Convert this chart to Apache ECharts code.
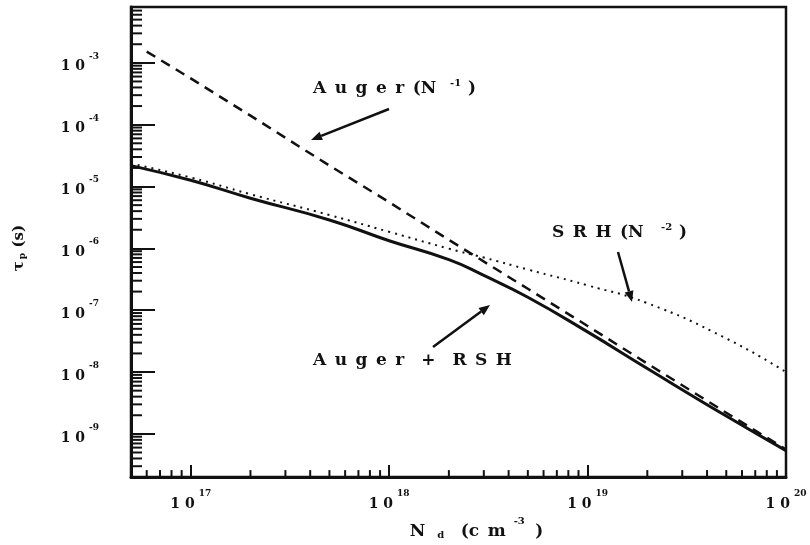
<!DOCTYPE html>
<html>
<head>
<meta charset="utf-8">
<script src="https://cdn.jsdelivr.net/npm/echarts@6/dist/echarts.min.js"></script>
<style>
  html, body { margin: 0; padding: 0; background: #fff; }
  #chart { width: 810px; height: 545px; }
</style>
</head>
<body>
<div id="chart"></div>
<script>
// Doping concentration N_d (cm^-3) sample points
const dopingN = [5e16, 1e17, 2e17, 5e17, 1e18, 2e18, 3e18, 5e18, 1e19, 2e19, 5e19, 1e20];
// Combined lifetime (solid)
const tauCombined = [2.18e-5, 1.26e-5, 6.47e-6, 2.88e-6, 1.33e-6, 6.58e-7, 3.65e-7, 1.62e-7, 4.46e-8, 1.14e-8, 1.94e-9, 5.35e-10];
// SRH-limited lifetime (dotted)
const tauSrh = [2.35e-5, 1.40e-5, 7.5e-6, 3.46e-6, 1.85e-6, 9.9e-7, 7.1e-7, 4.55e-7, 2.52e-7, 1.3e-7, 3.5e-8, 1.0e-8];
// Auger-limited lifetime (dashed)
const augerN = [6e16, 1e17, 2e17, 5e17, 1e18, 2e18, 5e18, 1e19, 2e19, 5e19, 1e20];
const tauAuger = [1.52e-3, 5.6e-4, 1.40e-4, 2.18e-5, 5.58e-6, 1.37e-6, 2.22e-7, 5.56e-8, 1.37e-8, 2.2e-9, 5.6e-10];

// Axis ranges
const X_MIN = 5e16, X_MAX = 1e20;
const Y_MIN = 2e-10, Y_MAX = 8e-3;

// Minor tick values (2..9 x 10^n) inside the axis ranges
function minorTicks(lo, hi) {
  const out = [];
  for (let e = Math.floor(Math.log10(lo)); e <= Math.ceil(Math.log10(hi)); e++) {
    for (let m = 2; m <= 9; m++) {
      const v = m * Math.pow(10, e);
      if (v > lo * 1.0001 && v < hi * 0.9999) out.push(v);
    }
  }
  return out;
}
const xMinor = minorTicks(X_MIN, X_MAX);
const yMinor = minorTicks(Y_MIN, Y_MAX);

const FONT = '"DejaVu Serif", "Liberation Serif", serif';
const SP = '\u2002';

function decadeLabel(v) {
  const lg = Math.log10(v);
  const e = Math.round(lg);
  if (Math.abs(lg - e) > 1e-6) return '';
  return '{b|1 0}{e|' + (e < 0 ? '-' + (-e) : e) + '}';
}

const labelRich = {
  b: { fontFamily: FONT, fontWeight: 'bold', fontSize: 14, color: '#111', lineHeight: 22, verticalAlign: 'bottom' },
  e: { fontFamily: FONT, fontWeight: 'bold', fontSize: 9, color: '#111', lineHeight: 22, verticalAlign: 'top', padding: [0, 0, 0, 4] }
};

function arrow(x1, y1, x2, y2) {
  const ang = Math.atan2(y2 - y1, x2 - x1);
  const L = 11, W = 4.5;
  const bx = x2 - L * Math.cos(ang), by = y2 - L * Math.sin(ang);
  const px = -Math.sin(ang) * W, py = Math.cos(ang) * W;
  return [
    { type: 'line', shape: { x1: x1, y1: y1, x2: bx, y2: by }, style: { stroke: '#111', lineWidth: 2.5 } },
    { type: 'polygon', shape: { points: [[x2, y2], [bx + px, by + py], [bx - px, by - py]] }, style: { fill: '#111' } }
  ];
}

const annoText = { fontFamily: FONT, fontWeight: 'bold', fontSize: 17, fill: '#111' };
const supText = { fontFamily: FONT, fontWeight: 'bold', fontSize: 10, fill: '#111' };

function spaced(s) { return s.split('').join(SP); }

const chart = echarts.init(document.getElementById('chart'), null, { renderer: 'canvas' });

chart.setOption({
  backgroundColor: '#fff',
  animation: false,
  grid: {
    left: 131, right: 24, top: 7, bottom: 63,
    show: true, borderColor: '#111', borderWidth: 2.5, backgroundColor: 'transparent'
  },
  xAxis: {
    type: 'log', logBase: 10, min: X_MIN, max: X_MAX,
    axisLine: { show: true, lineStyle: { color: '#111', width: 3 } },
    axisTick: { show: true, inside: true, length: 12, lineStyle: { color: '#111', width: 2 } },
    splitLine: { show: false },
    axisLabel: { margin: 12, formatter: decadeLabel, rich: labelRich, showMinLabel: true, showMaxLabel: true },
    name: '{n|N}{s|d}{n|' + SP + '(c' + SP + 'm}{e|-3}{n|' + SP + ')}',
    nameLocation: 'middle', nameGap: 32,
    nameTextStyle: {
      padding: [0, 0, 0, 36],
      rich: {
        n: { fontFamily: FONT, fontWeight: 'bold', fontSize: 17, color: '#111', lineHeight: 24, verticalAlign: 'bottom' },
        s: { fontFamily: FONT, fontWeight: 'bold', fontSize: 10, color: '#111', lineHeight: 24, verticalAlign: 'bottom', padding: [0, 8, 0, 12] },
        e: { fontFamily: FONT, fontWeight: 'bold', fontSize: 10, color: '#111', lineHeight: 24, verticalAlign: 'top', padding: [0, 2, 0, 8] }
      }
    }
  },
  yAxis: {
    type: 'log', logBase: 10, min: Y_MIN, max: Y_MAX,
    axisLine: { show: true, lineStyle: { color: '#111', width: 3 } },
    axisTick: { show: true, inside: true, length: 24, lineStyle: { color: '#111', width: 2 } },
    splitLine: { show: false },
    axisLabel: { margin: 32, formatter: decadeLabel, rich: labelRich },
    name: '{t|τ}{s|p} {n|(s)}',
    nameLocation: 'middle', nameGap: 104, nameRotate: 90,
    nameTextStyle: {
      padding: [0, 12, 0, 0],
      rich: {
        t: { fontFamily: FONT, fontWeight: 'bold', fontSize: 15, color: '#111', lineHeight: 22, verticalAlign: 'bottom' },
        s: { fontFamily: FONT, fontWeight: 'bold', fontSize: 9, color: '#111', lineHeight: 22, verticalAlign: 'bottom', padding: [0, 2, 0, 2] },
        n: { fontFamily: FONT, fontWeight: 'bold', fontSize: 15, color: '#111', lineHeight: 22, verticalAlign: 'bottom' }
      }
    }
  },
  series: [
    {
      name: 'Auger', type: 'line', symbol: 'none', smooth: false,
      data: augerN.map((n, i) => [n, tauAuger[i]]),
      lineStyle: { color: '#111', width: 2.5, type: [10, 7] }, z: 3
    },
    {
      name: 'SRH', type: 'line', symbol: 'none', smooth: true,
      data: dopingN.map((n, i) => [n, tauSrh[i]]),
      lineStyle: { color: '#111', width: 2, type: [2, 5] }, z: 3
    },
    {
      name: 'Auger + SRH', type: 'line', symbol: 'none', smooth: true,
      data: dopingN.map((n, i) => [n, tauCombined[i]]),
      lineStyle: { color: '#111', width: 3 }, z: 4
    },
    {
      // minor ticks on the y axis, drawn inward from the left frame
      type: 'custom', silent: true, clip: false, z: 5,
      data: yMinor.map(v => [X_MIN, v]),
      encode: { x: 0, y: 1 },
      renderItem: function (params, api) {
        const p = api.coord([api.value(0), api.value(1)]);
        return { type: 'line', shape: { x1: p[0], y1: p[1], x2: p[0] + 11, y2: p[1] }, style: { stroke: '#111', lineWidth: 2 } };
      }
    },
    {
      // minor ticks on the x axis, drawn inward from the bottom frame
      type: 'custom', silent: true, clip: false, z: 5,
      data: xMinor.map(v => [v, Y_MIN]),
      encode: { x: 0, y: 1 },
      renderItem: function (params, api) {
        const p = api.coord([api.value(0), api.value(1)]);
        return { type: 'line', shape: { x1: p[0], y1: p[1], x2: p[0], y2: p[1] - 7 }, style: { stroke: '#111', lineWidth: 2 } };
      }
    }
  ],
  graphic: [
    { type: 'text', left: 313, top: 80, style: Object.assign({ text: spaced('Auger') + SP + '(N' }, annoText) },
    { type: 'text', left: 450, top: 78, style: Object.assign({ text: '-1' }, supText) },
    { type: 'text', left: 468, top: 80, style: Object.assign({ text: ')' }, annoText) },
    { type: 'text', left: 313, top: 352, style: Object.assign({ text: spaced('Auger') + SP + SP + '+' + SP + SP + spaced('RSH') }, annoText) },
    { type: 'text', left: 552, top: 224, style: Object.assign({ text: spaced('SRH') + SP + '(N' }, annoText) },
    { type: 'text', left: 661, top: 222, style: Object.assign({ text: '-2' }, supText) },
    { type: 'text', left: 679, top: 224, style: Object.assign({ text: ')' }, annoText) }
  ].concat(arrow(389, 109, 311, 140), arrow(433, 347, 490, 305), arrow(618, 252, 632, 302))
});
</script>
</body>
</html>
